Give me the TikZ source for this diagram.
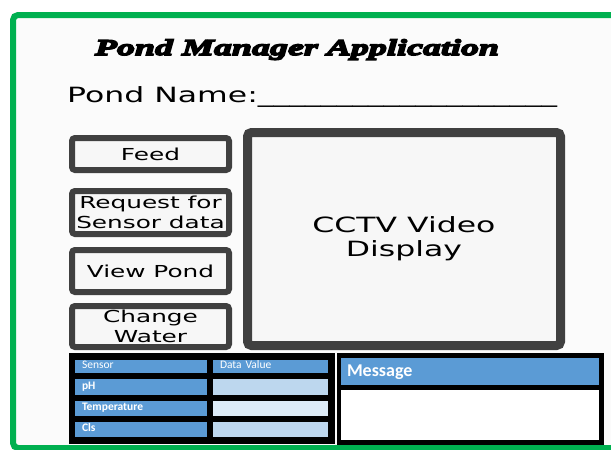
\documentclass[tikz,border=0pt]{standalone}
\usepackage{fontspec}
\usepackage{xcolor}
\usetikzlibrary{shadows}
\newfontfamily\uifont{DejaVu Sans}[FakeStretch=1.5]
\newfontface\titlefont{Liberation Serif Bold Italic}[FakeStretch=1.6,FakeBold=7]
\newfontfamily\cellfont{Carlito}
\definecolor{framegreen}{HTML}{00B050}
\definecolor{btnborder}{HTML}{404040}
\definecolor{cellblue}{HTML}{5B9BD5}
\definecolor{celllight}{HTML}{BDD7EE}
\definecolor{cellpale}{HTML}{DDEBF7}
\tikzset{
  button/.style={draw=btnborder, line width=6pt, rounded corners=3pt, fill=gray!6,
    minimum width=157pt, inner sep=0pt, align=center,
    font=\uifont\fontsize{16.5}{20}\selectfont},
  cell/.style={fill=#1, text=white, inner xsep=7pt, inner ysep=0pt, align=left,
    text height=7.5pt, text depth=3pt,
    font=\cellfont\fontsize{11.5}{12}\selectfont},
  namecell/.style={cell=cellblue, text width=118pt},
  valuecell/.style={cell=#1, text width=101pt}
}
\begin{document}
\begin{tikzpicture}[x=1pt,y=-1pt]
  \useasboundingbox (0,0) rectangle (611,450);
  \clip (0,0) rectangle (611,450);
  \fill[white] (0,0) rectangle (611,450);
  % window frame
  \draw[framegreen, line width=6pt, rounded corners=5pt, fill=gray!3] (13,15) rectangle (640,448);
  \node[anchor=base, font=\titlefont\fontsize{22.5}{26}\selectfont] (title) at (297,55) {Pond Manager Application};
  \node[anchor=base west, inner sep=0pt, font=\uifont\fontsize{21}{24}\selectfont] (pondname) at (67,102)
    {Pond Name:\_\_\_\_\_\_\_\_\_\_\_\_\_\_\_\_\_\_\_};
  % buttons
  \node[button, minimum height=32pt] (feed) at (150.5,154) {Feed};
  \node[button, minimum height=43pt] (request) at (150.5,212.5) {Request for\\Sensor data};
  \node[button, minimum height=42pt] (viewpond) at (150.5,271) {View Pond};
  \node[button, minimum height=41pt] (changewater) at (150.5,326.5) {Change\\Water};
  % video area
  \node[draw=btnborder, line width=9pt, rounded corners=4pt, fill=gray!6,
    drop shadow={shadow xshift=3pt, shadow yshift=-3pt, opacity=0.15},
    minimum width=313pt, minimum height=213pt, align=center,
    font=\uifont\fontsize{21}{24}\selectfont] (cctv) at (404,239) {CCTV Video\\Display};
  % sensor table
  \fill[black] (69,353) rectangle (335,444);
  \node[namecell, minimum height=13pt] (sensorhead) at (141,366) {Sensor};
  \node[valuecell=cellblue, minimum height=13pt] (valuehead) at (270.5,366) {Data Value};
  \foreach \lab/\yc/\rowh/\fillc [count=\i] in {pH/387/16/celllight, Temperature/408.5/15/cellpale, Cls/429.5/15/celllight} {
    \node[namecell, minimum height=\rowh pt, font=\cellfont\bfseries\fontsize{11.5}{12}\selectfont] (rowname-\i) at (141,\yc) {\lab};
    \node[valuecell=\fillc, minimum height=\rowh pt] (rowvalue-\i) at (270.5,\yc) {};
  }
  % message box
  \fill[black] (337,353) rectangle (604,445);
  \node[cell=cellblue, text width=246pt, inner xsep=6pt, minimum height=27pt,
    text height=13pt, text depth=4pt,
    font=\cellfont\bfseries\fontsize{18}{20}\selectfont] (msghead) at (470,371.5) {Message};
  \node[fill=white, minimum width=258pt, minimum height=50pt, inner sep=0pt] (msgbody) at (470,415) {};
\end{tikzpicture}
\end{document}
